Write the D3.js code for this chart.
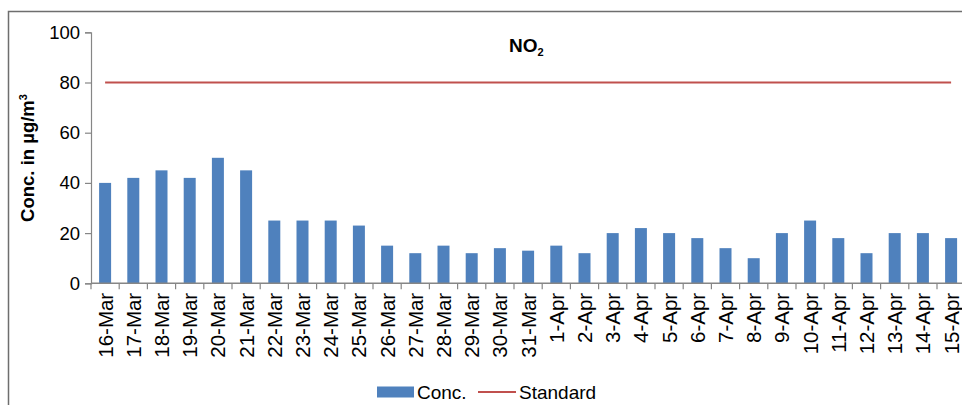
<!DOCTYPE html>
<html>
<head>
<meta charset="utf-8">
<script src="https://cdn.jsdelivr.net/npm/d3@7"></script>
<style>
  html, body { margin: 0; padding: 0; background: #fff; }
  svg { display: block; font-family: "Liberation Sans", Arial, sans-serif; }
</style>
</head>
<body>
<svg id="chart" width="962" height="405"></svg>
<script>
const categories = ["16-Mar","17-Mar","18-Mar","19-Mar","20-Mar","21-Mar","22-Mar","23-Mar","24-Mar","25-Mar",
  "26-Mar","27-Mar","28-Mar","29-Mar","30-Mar","31-Mar","1-Apr","2-Apr","3-Apr","4-Apr","5-Apr","6-Apr",
  "7-Apr","8-Apr","9-Apr","10-Apr","11-Apr","12-Apr","13-Apr","14-Apr","15-Apr"];
const concValues = [40,42,45,42,50,45,25,25,25,23,15,12,15,12,14,13,15,12,20,22,20,18,14,10,20,25,18,12,20,20,18];
const standardValues = categories.map(() => 80);
const yTicks = [0,20,40,60,80,100];

const svg = d3.select("#chart");

// outer frame (chart area border, cropped on right/bottom)
svg.append("rect")
  .attr("x", 8.5).attr("y", 11.5)
  .attr("width", 1000).attr("height", 500)
  .attr("fill", "none").attr("stroke", "#6e6e6e").attr("stroke-width", 1.5);

const x = d3.scaleBand().domain(categories).range([91, 965.2]).paddingInner(0).paddingOuter(0);
const y = d3.scaleLinear().domain([0, 100]).range([283.3, 32.3]);

const barW = 12;

// bars
svg.append("g").selectAll("rect")
  .data(categories.map((c, i) => ({c, v: concValues[i]})))
  .join("rect")
  .attr("x", d => x(d.c) + x.bandwidth() / 2 - barW / 2)
  .attr("width", barW)
  .attr("y", d => y(d.v))
  .attr("height", d => y(0) - y(d.v))
  .attr("fill", "#4F81BD");

// standard line
const line = d3.line()
  .x((d, i) => x(categories[i]) + x.bandwidth() / 2)
  .y(d => y(d));
svg.append("path")
  .datum(standardValues)
  .attr("d", line)
  .attr("fill", "none")
  .attr("stroke", "#C0504D")
  .attr("stroke-width", 2.2);

// y axis
const yAxis = svg.append("g")
  .attr("transform", "translate(91,0)")
  .call(d3.axisLeft(y).tickValues(yTicks).tickSize(6).tickPadding(5).tickFormat(d3.format("d")));
yAxis.select(".domain").attr("stroke", "#868686").attr("stroke-width", 1.2);
yAxis.selectAll(".tick line").attr("stroke", "#868686").attr("stroke-width", 1.2);
yAxis.selectAll(".tick text")
  .attr("font-size", 18.5).attr("fill", "#000")
  .attr("font-family", "Liberation Sans, Arial, sans-serif");

// x axis
const xTickPos = categories.map(c => x(c)).concat([x.range()[1]]);
const xg = svg.append("g");
xg.append("line")
  .attr("x1", 91).attr("x2", 965.2)
  .attr("y1", y(0)).attr("y2", y(0))
  .attr("stroke", "#868686").attr("stroke-width", 1.5);
xg.selectAll("line.tick")
  .data(xTickPos)
  .join("line")
  .attr("class", "tick")
  .attr("x1", d => d).attr("x2", d => d)
  .attr("y1", y(0)).attr("y2", y(0) + 6)
  .attr("stroke", "#868686").attr("stroke-width", 1.2);
xg.selectAll("text")
  .data(categories)
  .join("text")
  .attr("transform", d => `translate(${x(d) + x.bandwidth() / 2 + 7.5},${y(0) + 9.5}) rotate(-90)`)
  .attr("text-anchor", "end")
  .attr("font-size", 20.5)
  .attr("fill", "#000")
  .text(d => d);

// y axis title
const yt = svg.append("text")
  .attr("transform", "translate(34,158) rotate(-90)")
  .attr("text-anchor", "middle")
  .attr("font-size", 18.5)
  .attr("font-weight", "bold")
  .attr("fill", "#000");
yt.append("tspan").text("Conc. in µg/m");
yt.append("tspan").attr("font-size", 11).attr("dy", -7).text("3");

// chart title
const tt = svg.append("text")
  .attr("x", 509).attr("y", 52)
  .attr("font-size", 19)
  .attr("font-weight", "bold")
  .attr("fill", "#000");
tt.append("tspan").text("NO");
tt.append("tspan").attr("font-size", 11).attr("dy", 4).text("2");

// legend
const lg = svg.append("g");
lg.append("rect").attr("x", 377).attr("y", 386.5).attr("width", 37).attr("height", 11).attr("fill", "#4F81BD");
lg.append("text").attr("x", 417).attr("y", 399).attr("font-size", 19).attr("fill", "#000").text("Conc.");
lg.append("line").attr("x1", 478).attr("x2", 516).attr("y1", 392).attr("y2", 392)
  .attr("stroke", "#C0504D").attr("stroke-width", 2.2);
lg.append("text").attr("x", 519).attr("y", 399).attr("font-size", 19).attr("fill", "#000").text("Standard");
</script>
</body>
</html>
